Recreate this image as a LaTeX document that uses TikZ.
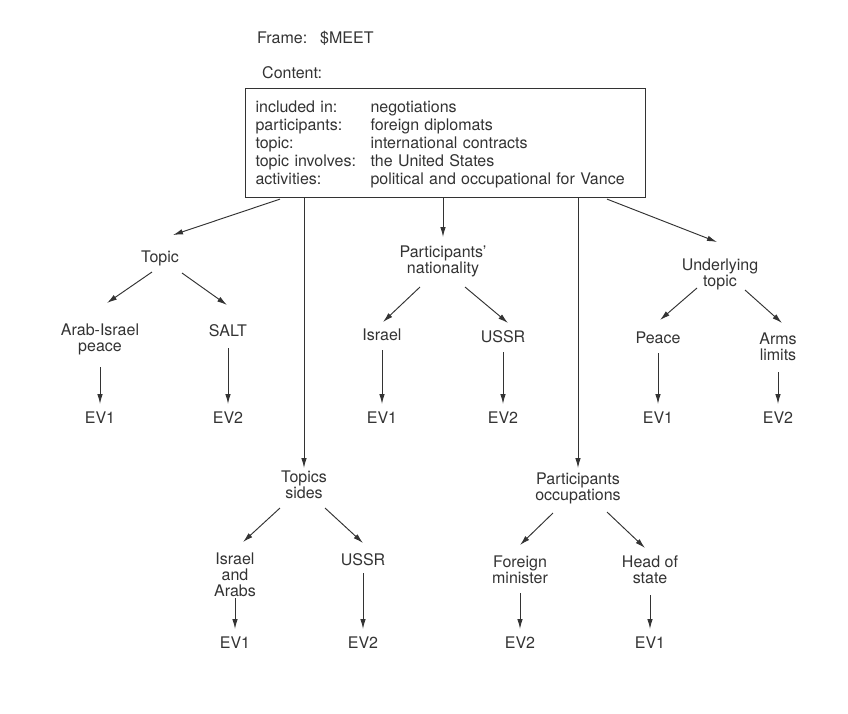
\documentclass[tikz,border=0pt]{standalone}
\usepackage{fontspec}
\setmainfont{TeX Gyre Heros}
\usetikzlibrary{arrows.meta}

\colorlet{ink}{black!80}
\tikzset{
  lbl/.style={inner sep=0pt, align=center, text=ink},
  arr/.style={draw=ink, line width=0.95pt, -{Latex[length=10pt,width=5.5pt]}},
}

\begin{document}
\begin{tikzpicture}[x=1pt, y=-1pt, font=\fontsize{16}{16}\selectfont]
  \useasboundingbox (0,0) rectangle (848,713);

  % frame and its content box
  \node[lbl, anchor=west] (frame) at (257,38) {\makebox[63pt][l]{Frame:}\$MEET};
  \node[lbl, anchor=west] (content) at (262,73) {Content:};
  \node[draw=ink, line width=1.1pt, anchor=north west, inner xsep=10pt, inner ysep=8pt,
        text width=380pt, align=left, text=ink, font=\fontsize{16}{18}\selectfont] (box) at (245,88)
    {\begin{tabular}{@{}p{115pt}@{}l@{}}
      \rule{0pt}{15.6pt}included in: & negotiations\\
      participants:   & foreign diplomats\\
      topic:          & international contracts\\
      topic involves: & the United States\\
      activities:     & political and occupational for Vance
     \end{tabular}};

  % first level
  \node[lbl] (topic)       at (160,258) {Topic};
  \node[lbl] (nationality) at (443,261) {Participants'\\nationality};
  \node[lbl] (underlying)  at (720,274) {Underlying\\topic};
  \node[lbl] (topics)      at (304,485) {Topics\\sides};
  \node[lbl] (occupations) at (578,488) {Participants\\occupations};

  % second level
  \node[lbl] (arabisrael)  at (100,339) {Arab-Israel\\peace};
  \node[lbl] (salt)        at (228,331) {SALT};
  \node[lbl] (israel)      at (382,335) {Israel};
  \node[lbl] (ussr)        at (503,337) {USSR};
  \node[lbl] (peace)       at (658,338) {Peace};
  \node[lbl] (arms)        at (778,347) {Arms\\limits};
  \node[lbl] (israelarabs) at (235,575) {Israel\\and\\Arabs};
  \node[lbl] (ussrb)       at (363,560) {USSR};
  \node[lbl] (foreign)     at (520,570) {Foreign\\minister};
  \node[lbl] (head)        at (650,570) {Head of\\state};

  % events
  \node[lbl] (evA) at (100,418) {EV1};
  \node[lbl] (evB) at (228,418) {EV2};
  \node[lbl] (evC) at (382,418) {EV1};
  \node[lbl] (evD) at (503,418) {EV2};
  \node[lbl] (evE) at (658,418) {EV1};
  \node[lbl] (evF) at (778,418) {EV2};
  \node[lbl] (evG) at (235,643) {EV1};
  \node[lbl] (evH) at (363,643) {EV2};
  \node[lbl] (evI) at (520,643) {EV2};
  \node[lbl] (evJ) at (650,643) {EV1};

  % from the box
  \draw[arr] ([shift={(35,1)}]box.south west)  -- ([shift={(13,-23)}]topic.center);
  \draw[arr] ([shift={(198,0)}]box.south west) -- ([shift={(0,-24)}]nationality.center);
  \draw[arr] ([shift={(59,0)}]box.south west)  -- ([shift={(0,-17)}]topics.center);
  \draw[arr] ([shift={(333,0)}]box.south west) -- ([shift={(0,-20)}]occupations.center);
  \draw[arr] ([shift={(362,1)}]box.south west) -- ([shift={(-3,-32)}]underlying.center);

  % splits
  \draw[arr] ([shift={(-8,14)}]topic.center)        -- ([shift={(7,-36)}]arabisrael.center);
  \draw[arr] ([shift={(22,15)}]topic.center)        -- ([shift={(-1,-26)}]salt.center);
  \draw[arr] ([shift={(-23,26)}]nationality.center) -- ([shift={(1,-13)}]israel.center);
  \draw[arr] ([shift={(22,26)}]nationality.center)  -- ([shift={(5,-14)}]ussr.center);
  \draw[arr] ([shift={(-23,14)}]underlying.center)  -- ([shift={(2,-18)}]peace.center);
  \draw[arr] ([shift={(25,16)}]underlying.center)   -- ([shift={(4,-24)}]arms.center);
  \draw[arr] ([shift={(-24,23)}]topics.center)      -- ([shift={(8,-33)}]israelarabs.center);
  \draw[arr] ([shift={(21,23)}]topics.center)       -- ([shift={(0,-17)}]ussrb.center);
  \draw[arr] ([shift={(-25,25)}]occupations.center) -- ([shift={(0,-25)}]foreign.center);
  \draw[arr] ([shift={(29,24)}]occupations.center)  -- ([shift={(-5,-22)}]head.center);

  % down to the events
  \draw[arr] ([shift={(0,28)}]arabisrael.center)  -- ([shift={(0,-14)}]evA.center);
  \draw[arr] ([shift={(0,17)}]salt.center)        -- ([shift={(0,-14)}]evB.center);
  \draw[arr] ([shift={(0,15)}]israel.center)      -- ([shift={(0,-14)}]evC.center);
  \draw[arr] ([shift={(0,15)}]ussr.center)        -- ([shift={(0,-14)}]evD.center);
  \draw[arr] ([shift={(0,15)}]peace.center)       -- ([shift={(0,-14)}]evE.center);
  \draw[arr] ([shift={(0,25)}]arms.center)        -- ([shift={(0,-14)}]evF.center);
  \draw[arr] ([shift={(0,23)}]israelarabs.center) -- ([shift={(0,-14)}]evG.center);
  \draw[arr] ([shift={(0,13)}]ussrb.center)       -- ([shift={(0,-14)}]evH.center);
  \draw[arr] ([shift={(0,23)}]foreign.center)     -- ([shift={(0,-14)}]evI.center);
  \draw[arr] ([shift={(0,25)}]head.center)        -- ([shift={(0,-14)}]evJ.center);

\end{tikzpicture}
\end{document}
